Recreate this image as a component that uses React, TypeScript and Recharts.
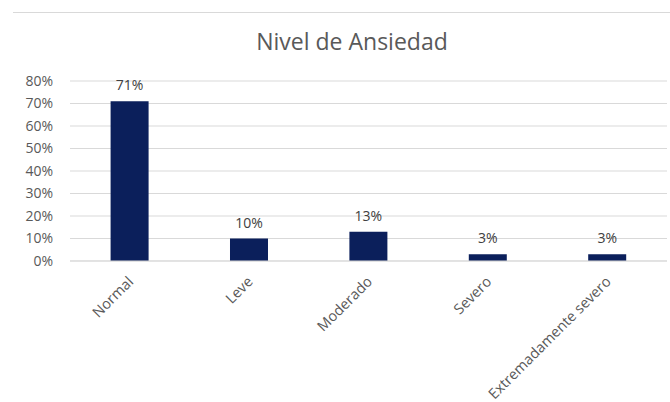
import React from "react";
import { BarChart, Bar, XAxis, YAxis, CartesianGrid, LabelList } from "recharts";

const categories = ["Normal", "Leve", "Moderado", "Severo", "Extremadamente severo"];
const values = [0.71, 0.1, 0.13, 0.03, 0.03];
const yTicks = [0, 0.1, 0.2, 0.3, 0.4, 0.5, 0.6, 0.7, 0.8];
const title = "Nivel de Ansiedad";

const data = categories.map((c, i) => ({ name: c, value: values[i] }));

const FONT = "'Open Sans', sans-serif";
const pct = (v: number) => `${Math.round(v * 100)}%`;

const XTick = (props: any) => {
  const { x, y, payload } = props;
  const ax = x + 1;
  const ay = y + 10;
  return (
    <text
      x={ax}
      y={ay}
      dy="0.35em"
      textAnchor="end"
      transform={`rotate(-45, ${ax}, ${ay})`}
      fontFamily={FONT}
      fontSize={14.5}
      fill="#595959"
    >
      {payload.value}
    </text>
  );
};

export default function App() {
  return (
    <div style={{ position: "absolute", left: 0, top: 0, width: 670, height: 402, background: "#fff" }}>
      <div style={{ position: "absolute", left: 13, top: 12, width: 657, height: 1, background: "#d9d9d9" }} />
      <div
        style={{
          position: "absolute",
          left: 0,
          top: 25,
          width: 704,
          textAlign: "center",
          fontFamily: FONT,
          fontSize: 23,
          color: "#595959",
        }}
      >
        {title}
      </div>
      <BarChart
        width={670}
        height={402}
        data={data}
        margin={{ top: 81, right: 3, left: 0, bottom: 0 }}
        barCategoryGap="34%"
      >
        <CartesianGrid vertical={false} stroke="#d9d9d9" strokeWidth={1} />
        <YAxis
          width={70}
          domain={[0, 0.8]}
          ticks={yTicks}
          interval={0}
          tickFormatter={pct}
          axisLine={false}
          tickLine={false}
          tickMargin={11}
          tick={{ fontFamily: FONT, fontSize: 14, fill: "#595959" }}
        />
        <XAxis
          dataKey="name"
          height={141}
          axisLine={{ stroke: "#d9d9d9" }}
          tickLine={false}
          interval={0}
          tick={<XTick />}
        />
        <Bar dataKey="value" fill="#0b1f5b" isAnimationActive={false}>
          <LabelList
            dataKey="value"
            position="top"
            offset={11}
            formatter={pct}
            style={{ fontFamily: FONT, fontSize: 14, fill: "#404040" }}
          />
        </Bar>
      </BarChart>
    </div>
  );
}
